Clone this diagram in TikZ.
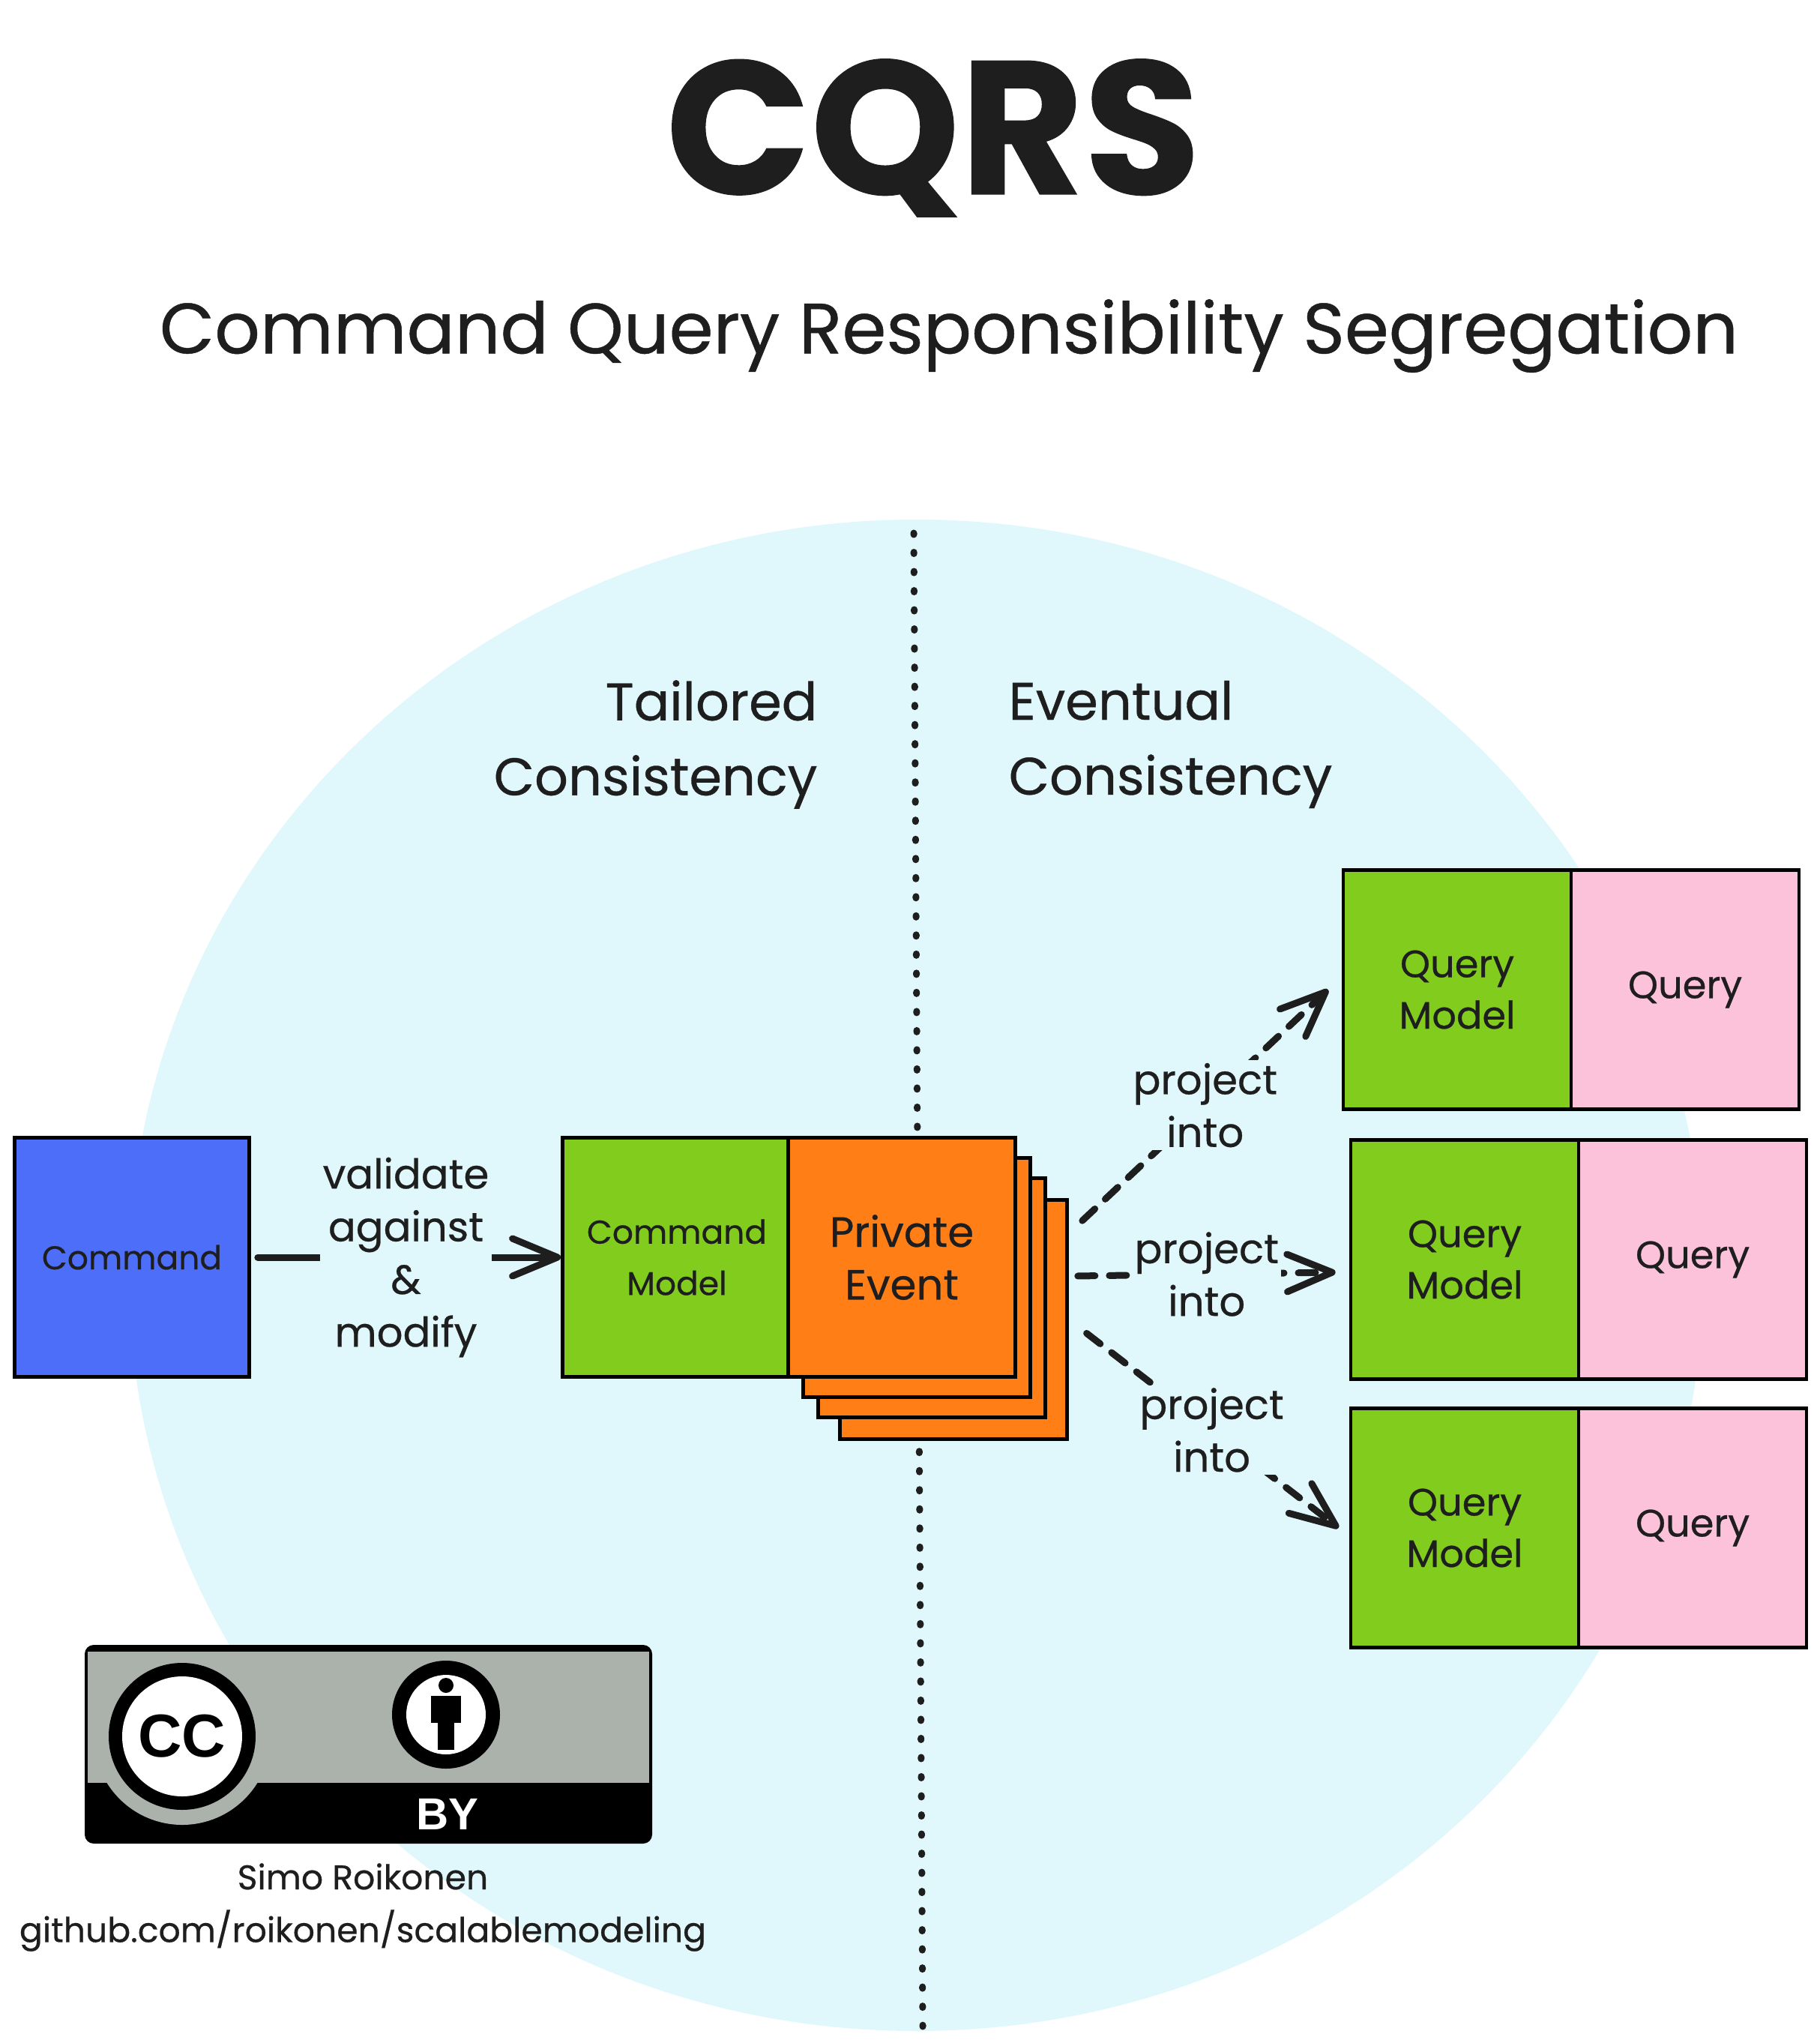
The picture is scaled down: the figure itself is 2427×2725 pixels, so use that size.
\documentclass[tikz,border=0pt]{standalone}
\usepackage{fontspec}
\usepackage{tikz}
\usetikzlibrary{arrows.meta}
\newfontfamily\sketchfont[FakeBold=.5]{Poppins}
\newfontfamily\badgefont{Liberation Sans}
\definecolor{inkc}{HTML}{1E1E1E}
\definecolor{bgc}{HTML}{E0F8FB}
\definecolor{cmdc}{HTML}{4D6EF8}
\definecolor{modelc}{HTML}{82CC1E}
\definecolor{eventc}{HTML}{FF7F16}
\definecolor{queryc}{HTML}{FBC2DA}
\definecolor{badgec}{HTML}{AAB2AB}
\tikzset{
  note/.style={draw=black, line width=.045cm, inner sep=0pt, text=inkc, align=center,
    minimum width=3.04cm, minimum height=3.19cm, font=\sketchfont\fontsize{14.5}{19.5}\selectfont},
  narrowtext/.style={font=\sketchfont\fontsize{12.5}{19.5}\selectfont},
  widetext/.style={font=\sketchfont\fontsize{16}{20}\selectfont},
  label/.style={text=inkc, align=center, inner sep=1pt, font=\sketchfont\fontsize{15.5}{20}\selectfont},
  gaplabel/.style={label, fill=bgc},
  heading/.style={text=inkc, inner sep=0pt, font=\sketchfont\fontsize{20}{28.4}\selectfont},
  flow/.style={draw=inkc, line width=.09cm, line cap=round,
    -{Straight Barb[round,length=.6cm,width=.5cm]}},
  project/.style={flow, dash pattern=on .23cm off .19cm}
}
\begin{document}
\begin{tikzpicture}[x=.01cm, y=-.01cm]
\useasboundingbox (0,0) rectangle (2427,2725);
\fill[bgc] (1222,1701) ellipse [x radius=1050, y radius=1008];
\coordinate (divtop) at (1219,711);
\coordinate (divbot) at (1231,2703);
\draw[inkc, line width=.09cm, line cap=round, dash pattern=on .02cm off .235cm] (divtop) -- (divbot);
\node[text=inkc, inner sep=0pt, font=\sketchfont\bfseries\fontsize{72}{80}\selectfont] (title) at (1245,184) {CQRS};
\node[heading, font=\sketchfont\fontsize{27}{30}\selectfont] (subtitle) at (1266,448) {Command Query Responsibility Segregation};
\node[heading, align=right, anchor=east] (tailored) at (1091,993) {Tailored\\Consistency};
\node[heading, align=left, anchor=west] (eventual) at (1345,993) {Eventual\\Consistency};
\node[note, fill=cmdc, narrowtext, minimum width=3.13cm] (cmd) at (176,1677) {Command};
\node[note, fill=modelc, narrowtext, minimum width=3.05cm] (cmdmodel) at (903,1677) {Command\\Model};
\node[note, fill=eventc, minimum width=3.03cm] (evt4) at (1272,1760) {};
\node[note, fill=eventc, minimum width=3.03cm] (evt3) at (1243,1731) {};
\node[note, fill=eventc, minimum width=3.03cm] (evt2) at (1223,1704) {};
\node[note, fill=eventc, widetext, minimum width=3.03cm] (evt1) at (1203,1677) {Private\\Event};
\node[note, fill=modelc] (qmodel1) at (1944,1320) {Query\\Model};
\node[note, fill=queryc] (query1) at (2248,1320) {Query};
\node[note, fill=modelc] (qmodel2) at (1954,1680) {Query\\Model};
\node[note, fill=queryc] (query2) at (2258,1680) {Query};
\node[note, fill=modelc] (qmodel3) at (1954,2038) {Query\\Model};
\node[note, fill=queryc] (query3) at (2258,2038) {Query};
\draw[flow, shorten <=.09cm] (cmd) -- node[gaplabel] (validate) {validate\\against\\\&\\modify} (cmdmodel);
\draw[project] ([xshift=.18cm, yshift=-.3cm]evt4.north east) -- node[gaplabel] (proj1) {project\\into} ([xshift=-.18cm]qmodel1.west);
\draw[project] ([xshift=.12cm, yshift=.58cm]evt4.east) -- node[gaplabel] (proj2) {project\\into} ([xshift=-.18cm, yshift=-.17cm]qmodel2.west);
\draw[project, shorten <=.3cm] (evt4.east) -- node[gaplabel, pos=.53] (proj3) {project\\into} ([xshift=-.14cm]qmodel3.west);
\fill[black, rounded corners=.12cm] (113,2194) rectangle (870,2459);
\fill[badgec] (117,2203) rectangle (866,2378);
\begin{scope}
\clip (113,2378) rectangle (870,2459);
\fill[badgec] (243,2316) circle [radius=118];
\end{scope}
\fill[black] (243,2316) circle [radius=98];
\fill[white] (243,2316) circle [radius=80];
\node[text=black, inner sep=0pt, font=\badgefont\bfseries\fontsize{23}{23}\selectfont] (cclabel) at (243,2316) {CC};
\fill[black] (595,2287) circle [radius=72];
\fill[white] (595,2287) circle [radius=53];
\fill[black] (595,2248) circle [radius=10];
\fill[black] (575,2262) rectangle (615,2298);
\fill[black] (584,2298) rectangle (606,2334);
\node[text=white, inner sep=0pt, font=\badgefont\bfseries\fontsize{17}{17}\selectfont] (bylabel) at (597,2420) {BY};
\node[label, font=\sketchfont\fontsize{13}{20}\selectfont] (author) at (484,2544) {Simo Roikonen\\github.com/roikonen/scalablemodeling};
\end{tikzpicture}
\end{document}
